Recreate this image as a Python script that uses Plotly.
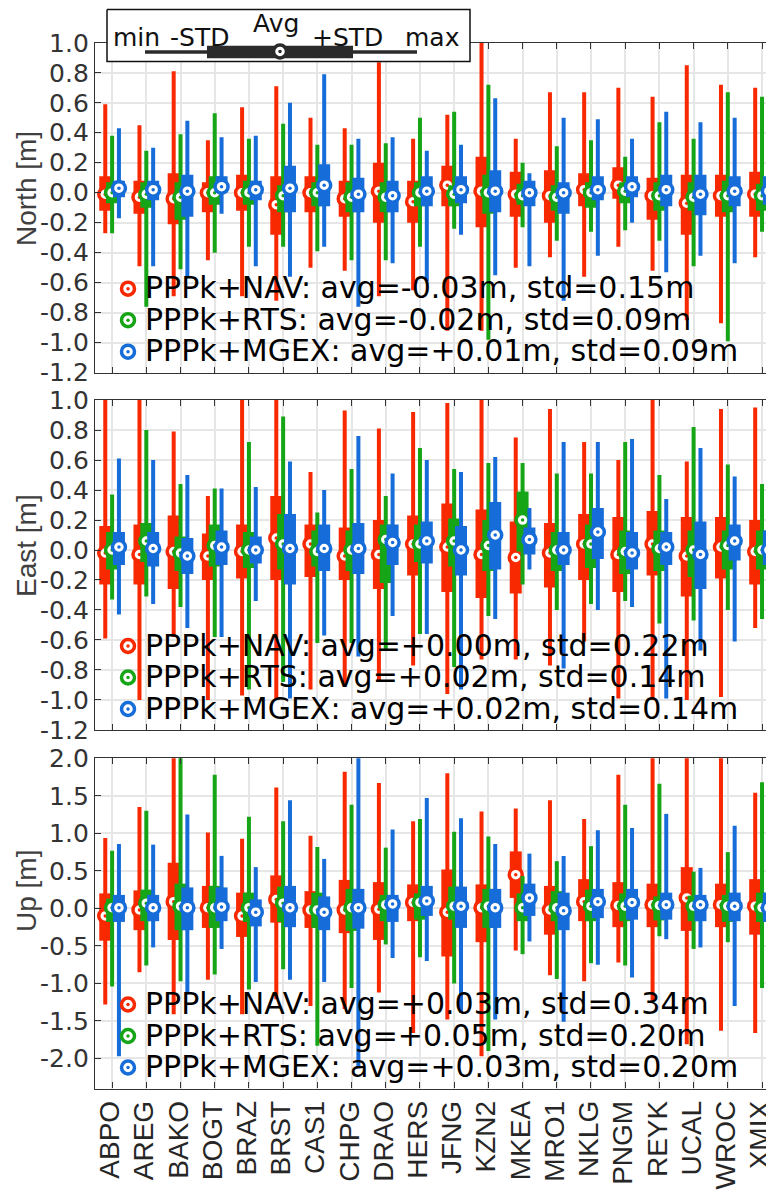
import plotly.graph_objects as go

# The page body has an 8px default margin, so the figure is drawn 8px smaller and all
# reference pixel positions below are converted with PAGE_OFF.
PAGE_OFF = 8
REF_W, REF_H = 774, 1193
W, H = REF_W - PAGE_OFF, REF_H - PAGE_OFF

STATIONS = ["ABPO", "AREG", "BAKO", "BOGT", "BRAZ", "BRST", "CAS1", "CHPG", "DRAO", "HERS",
            "JFNG", "KZN2", "MKEA", "MRO1", "NKLG", "PNGM", "REYK", "UCAL", "WROC", "XMIX"]
SERIES = ["PPPk+NAV", "PPPk+RTS", "PPPk+MGEX"]
COLORS = ["#F82800", "#16A516", "#166CD8"]

# ---------------- North [m] ----------------
N_NAV_AVG = [-0.01, -0.03, -0.04, 0.00, 0.00, -0.08, 0.00, -0.04, 0.01, -0.06, 0.05, 0.01, -0.01, -0.02, 0.02, 0.05, -0.02, -0.07, -0.02, -0.01]
N_NAV_LO = [-0.12, -0.14, -0.21, -0.13, -0.12, -0.28, -0.13, -0.16, -0.20, -0.20, -0.09, -0.23, -0.16, -0.20, -0.09, -0.04, -0.18, -0.28, -0.16, -0.16]
N_NAV_HI = [0.11, 0.08, 0.13, 0.07, 0.12, 0.11, 0.11, 0.08, 0.20, 0.08, 0.18, 0.24, 0.14, 0.15, 0.13, 0.17, 0.10, 0.12, 0.12, 0.14]
N_NAV_MIN = [-0.27, -0.49, -0.69, -0.45, -0.69, -0.72, -0.50, -0.52, -0.69, -0.65, -0.92, -0.92, -0.50, -0.43, -0.56, -0.36, -0.52, -0.85, -0.87, -0.43]
N_NAV_MAX = [0.59, 0.45, 0.81, 0.35, 0.57, 0.71, 0.50, 0.43, 0.87, 0.36, 0.52, 1.05, 0.36, 0.67, 0.67, 0.70, 0.64, 0.85, 0.72, 0.70]

N_RTS_AVG = [0.00, -0.01, -0.03, 0.00, 0.00, -0.02, 0.00, -0.03, -0.03, 0.00, -0.01, 0.00, -0.02, -0.03, 0.00, 0.01, -0.02, -0.03, -0.02, -0.02]
N_RTS_LO = [-0.07, -0.10, -0.18, -0.08, -0.08, -0.13, -0.09, -0.13, -0.13, -0.09, -0.09, -0.14, -0.08, -0.12, -0.10, -0.07, -0.12, -0.12, -0.13, -0.12]
N_RTS_HI = [0.07, 0.07, 0.07, 0.11, 0.08, 0.05, 0.07, 0.07, 0.07, 0.07, 0.05, 0.12, 0.06, 0.05, 0.07, 0.07, 0.07, 0.07, 0.08, 0.06]
N_RTS_MIN = [-0.27, -0.76, -0.51, -0.40, -0.36, -0.36, -0.39, -0.45, -0.45, -0.36, -0.24, -0.98, -0.23, -0.32, -0.26, -0.25, -0.32, -0.49, -0.99, -0.26]
N_RTS_MAX = [0.38, 0.28, 0.39, 0.53, 0.36, 0.46, 0.32, 0.32, 0.33, 0.50, 0.54, 0.72, 0.20, 0.31, 0.35, 0.24, 0.47, 0.36, 0.67, 0.64]

N_MGEX_AVG = [0.03, 0.02, 0.01, 0.04, 0.02, 0.03, 0.05, -0.01, -0.02, 0.01, 0.02, 0.01, 0.00, 0.00, 0.02, 0.04, 0.02, -0.01, 0.01, 0.01]
N_MGEX_LO = [-0.03, -0.05, -0.16, 0.00, -0.05, -0.13, -0.09, -0.13, -0.13, -0.09, -0.07, -0.13, -0.09, -0.14, -0.05, -0.03, -0.09, -0.15, -0.09, -0.08]
N_MGEX_HI = [0.08, 0.08, 0.12, 0.11, 0.08, 0.18, 0.19, 0.10, 0.08, 0.11, 0.11, 0.15, 0.08, 0.07, 0.11, 0.11, 0.12, 0.12, 0.11, 0.11]
N_MGEX_MIN = [-0.17, -0.49, -0.56, -0.14, -0.49, -0.56, -0.36, -0.76, -0.47, -0.59, -0.28, -0.55, -0.49, -0.72, -0.42, -0.20, -0.53, -0.42, -0.47, -0.35]
N_MGEX_MAX = [0.43, 0.30, 0.48, 0.37, 0.38, 0.60, 0.79, 0.36, 0.37, 0.28, 0.32, 0.63, 0.13, 0.50, 0.49, 0.36, 0.54, 0.47, 0.50, 0.47]

# ---------------- East [m] ----------------
E_NAV_AVG = [-0.02, -0.03, -0.01, -0.04, -0.01, 0.08, 0.04, -0.04, -0.03, 0.04, 0.02, -0.03, -0.05, -0.02, 0.04, -0.03, 0.04, -0.04, 0.02, -0.01]
E_NAV_LO = [-0.23, -0.23, -0.26, -0.20, -0.19, -0.20, -0.18, -0.20, -0.26, -0.17, -0.28, -0.32, -0.29, -0.25, -0.20, -0.28, -0.17, -0.31, -0.19, -0.23]
E_NAV_HI = [0.16, 0.17, 0.23, 0.11, 0.17, 0.36, 0.17, 0.15, 0.20, 0.23, 0.31, 0.27, 0.19, 0.18, 0.24, 0.22, 0.26, 0.22, 0.22, 0.20]
E_NAV_MIN = [-0.59, -1.00, -0.58, -1.00, -0.97, -1.00, -0.93, -0.90, -0.87, -0.77, -0.96, -0.73, -0.73, -0.77, -0.61, -0.99, -1.00, -1.00, -0.98, -0.52]
E_NAV_MAX = [1.05, 1.05, 0.79, 0.36, 1.05, 1.05, 0.52, 0.93, 0.81, 0.92, 0.98, 1.05, 0.75, 0.94, 0.72, 0.60, 1.05, 0.59, 0.94, 0.95]

E_RTS_AVG = [0.00, 0.06, -0.02, 0.03, 0.00, 0.04, -0.01, 0.00, 0.07, 0.04, 0.06, 0.03, 0.20, 0.00, 0.04, -0.01, 0.01, 0.00, 0.03, 0.00]
E_RTS_LO = [-0.13, -0.08, -0.14, -0.11, -0.12, -0.13, -0.11, -0.14, -0.22, -0.08, -0.11, -0.14, -0.01, -0.14, -0.12, -0.16, -0.14, -0.18, -0.13, -0.13]
E_RTS_HI = [0.12, 0.18, 0.09, 0.17, 0.12, 0.24, 0.13, 0.13, 0.17, 0.17, 0.21, 0.20, 0.39, 0.12, 0.17, 0.13, 0.13, 0.13, 0.13, 0.13]
E_RTS_MIN = [-0.33, -0.31, -0.38, -0.58, -0.93, -0.88, -0.62, -0.62, -0.66, -0.56, -0.78, -0.44, -0.23, -0.40, -0.36, -0.34, -0.49, -0.47, -0.40, -0.46]
E_RTS_MAX = [0.37, 0.80, 0.44, 0.41, 0.72, 0.89, 0.25, 0.54, 0.36, 0.68, 0.54, 0.58, 0.58, 0.51, 0.51, 0.72, 0.50, 0.82, 0.57, 0.44]

E_MGEX_AVG = [0.02, 0.01, -0.04, 0.02, 0.00, 0.01, 0.01, 0.01, 0.05, 0.06, 0.00, 0.10, 0.07, 0.00, 0.12, -0.02, 0.02, -0.03, 0.06, 0.00]
E_MGEX_LO = [-0.10, -0.11, -0.16, -0.10, -0.09, -0.23, -0.14, -0.16, -0.10, -0.09, -0.17, -0.13, -0.03, -0.10, -0.06, -0.13, -0.10, -0.26, -0.07, -0.10]
E_MGEX_HI = [0.12, 0.12, 0.08, 0.13, 0.09, 0.24, 0.17, 0.18, 0.17, 0.19, 0.16, 0.32, 0.15, 0.12, 0.28, 0.12, 0.12, 0.19, 0.17, 0.13]
E_MGEX_MIN = [-0.43, -0.36, -0.52, -0.58, -0.34, -0.99, -0.57, -0.71, -0.44, -0.56, -0.93, -0.46, -0.13, -0.79, -0.40, -0.38, -0.99, -0.67, -0.61, -0.52]
E_MGEX_MAX = [0.61, 0.60, 0.50, 0.41, 0.42, 0.59, 0.40, 0.76, 0.51, 0.60, 0.52, 0.62, 0.28, 0.72, 0.72, 0.74, 0.34, 0.68, 0.49, 0.40]

# ---------------- Up [m] ----------------
U_NAV_AVG = [-0.10, -0.02, 0.09, 0.01, -0.10, 0.12, -0.02, -0.02, -0.01, 0.08, -0.05, 0.01, 0.45, -0.02, 0.09, 0.04, 0.05, 0.14, 0.05, 0.03]
U_NAV_LO = [-0.43, -0.29, -0.42, -0.26, -0.38, -0.19, -0.26, -0.33, -0.42, -0.17, -0.64, -0.45, 0.14, -0.35, -0.17, -0.25, -0.25, -0.30, -0.25, -0.35]
U_NAV_HI = [0.20, 0.24, 0.61, 0.30, 0.21, 0.44, 0.23, 0.38, 0.35, 0.32, 0.52, 0.32, 0.76, 0.30, 0.39, 0.35, 0.33, 0.55, 0.33, 0.39]
U_NAV_MIN = [-1.28, -0.85, -1.41, -0.95, -1.41, -1.21, -1.30, -1.34, -1.12, -1.66, -1.48, -1.97, -0.56, -0.89, -0.97, -0.72, -1.23, -1.81, -1.63, -1.66]
U_NAV_MAX = [0.94, 1.35, 2.10, 1.01, 0.93, 1.61, 0.97, 1.82, 1.67, 1.16, 1.80, 1.29, 1.33, 1.44, 1.19, 1.78, 2.10, 2.10, 2.10, 1.54]

U_RTS_AVG = [0.01, 0.07, 0.03, 0.01, 0.01, 0.07, -0.02, 0.01, 0.05, 0.08, 0.03, 0.03, 0.01, 0.01, 0.03, 0.03, 0.04, 0.03, 0.03, 0.01]
U_RTS_LO = [-0.18, -0.17, -0.29, -0.26, -0.18, -0.18, -0.26, -0.30, -0.17, -0.15, -0.15, -0.26, -0.17, -0.17, -0.17, -0.17, -0.16, -0.17, -0.18, -0.18]
U_RTS_HI = [0.13, 0.25, 0.33, 0.30, 0.21, 0.29, 0.21, 0.26, 0.18, 0.20, 0.29, 0.26, 0.20, 0.23, 0.25, 0.20, 0.16, 0.17, 0.18, 0.21]
U_RTS_MIN = [-1.04, -0.76, -0.97, -0.88, -1.08, -0.81, -1.83, -1.06, -0.48, -0.65, -1.00, -1.90, -0.61, -0.94, -0.73, -0.76, -0.37, -0.54, -0.45, -1.06]
U_RTS_MAX = [0.77, 1.30, 2.10, 1.78, 1.22, 1.16, 0.82, 1.38, 0.81, 1.19, 1.02, 0.96, 0.43, 0.63, 0.83, 1.38, 1.66, 0.49, 0.75, 1.68]

U_MGEX_AVG = [0.01, 0.01, 0.01, 0.02, -0.05, 0.01, -0.05, 0.01, 0.06, 0.10, 0.03, 0.01, 0.14, -0.03, 0.09, 0.08, 0.05, 0.05, 0.03, 0.01]
U_MGEX_LO = [-0.18, -0.17, -0.29, -0.17, -0.24, -0.25, -0.29, -0.27, -0.18, -0.10, -0.26, -0.26, -0.10, -0.29, -0.13, -0.15, -0.15, -0.17, -0.17, -0.18]
U_MGEX_HI = [0.18, 0.18, 0.28, 0.28, 0.12, 0.30, 0.16, 0.26, 0.18, 0.30, 0.29, 0.26, 0.33, 0.21, 0.26, 0.26, 0.21, 0.18, 0.21, 0.21]
U_MGEX_MIN = [-1.97, -0.52, -1.12, -0.54, -0.98, -0.95, -0.98, -2.13, -0.66, -0.70, -1.39, -1.48, -0.44, -1.51, -0.75, -0.92, -0.41, -0.52, -1.30, -1.23]
U_MGEX_MAX = [0.86, 0.85, 1.25, 0.70, 0.55, 1.44, 0.66, 2.10, 1.05, 1.47, 1.20, 0.86, 0.73, 0.70, 1.04, 1.07, 1.26, 0.54, 1.10, 0.82]

# summary statistics printed in each panel (avg, std per series)
N_SUM_AVG = [-0.03, -0.02, 0.01]
N_SUM_STD = [0.15, 0.09, 0.09]
E_SUM_AVG = [0.00, 0.02, 0.02]
E_SUM_STD = [0.22, 0.14, 0.14]
U_SUM_AVG = [0.03, 0.05, 0.03]
U_SUM_STD = [0.34, 0.20, 0.20]

NE_TICK_TEXT = ["-1.2", "-1.0", "-0.8", "-0.6", "-0.4", "-0.2", "0.0", "0.2", "0.4", "0.6", "0.8", "1.0"]
UP_TICK_TEXT = ["-2.0", "-1.5", "-1.0", "-0.5", "0.0", "0.5", "1.0", "1.5", "2.0"]

PANEL_TITLES = ["North [m]", "East [m]", "Up [m]"]
LEGEND_KEY = ["min", "-STD", "Avg", "+STD", "max"]

# ---------------- layout geometry (reference pixels) ----------------
X_LEFT = 95
TOPS = [42.7, 400.0, 758.3]
BOTTOMS = [372.7, 730.0, 1088.5]
XRANGE = [0.5, 20.35]
OFFSETS = [-0.2, 0.0, 0.2]

panels = [
    dict(data=[(N_NAV_MIN, N_NAV_LO, N_NAV_AVG, N_NAV_HI, N_NAV_MAX),
               (N_RTS_MIN, N_RTS_LO, N_RTS_AVG, N_RTS_HI, N_RTS_MAX),
               (N_MGEX_MIN, N_MGEX_LO, N_MGEX_AVG, N_MGEX_HI, N_MGEX_MAX)],
         sum_avg=N_SUM_AVG, sum_std=N_SUM_STD, ticks=NE_TICK_TEXT, rng=[-1.2005, 1.0005]),
    dict(data=[(E_NAV_MIN, E_NAV_LO, E_NAV_AVG, E_NAV_HI, E_NAV_MAX),
               (E_RTS_MIN, E_RTS_LO, E_RTS_AVG, E_RTS_HI, E_RTS_MAX),
               (E_MGEX_MIN, E_MGEX_LO, E_MGEX_AVG, E_MGEX_HI, E_MGEX_MAX)],
         sum_avg=E_SUM_AVG, sum_std=E_SUM_STD, ticks=NE_TICK_TEXT, rng=[-1.2005, 1.0005]),
    dict(data=[(U_NAV_MIN, U_NAV_LO, U_NAV_AVG, U_NAV_HI, U_NAV_MAX),
               (U_RTS_MIN, U_RTS_LO, U_RTS_AVG, U_RTS_HI, U_RTS_MAX),
               (U_MGEX_MIN, U_MGEX_LO, U_MGEX_AVG, U_MGEX_HI, U_MGEX_MAX)],
         sum_avg=U_SUM_AVG, sum_std=U_SUM_STD, ticks=UP_TICK_TEXT, rng=[-2.4, 2.0005]),
]

fig = go.Figure()
positions = list(range(1, len(STATIONS) + 1))


def segs(xs, y0s, y1s):
    X, Y = [], []
    for x, a, b in zip(xs, y0s, y1s):
        X += [x, x, None]
        Y += [a, b, None]
    return X, Y


for p, panel in enumerate(panels):
    ax = "" if p == 0 else str(p + 1)
    for s, (mn, lo, av, hi, mx) in enumerate(panel["data"]):
        xs = [i + OFFSETS[s] for i in positions]
        col = COLORS[s]
        X, Y = segs(xs, mn, mx)
        fig.add_trace(go.Scatter(x=X, y=Y, mode="lines", line=dict(color=col, width=4),
                                 xaxis="x" + ax, yaxis="y" + ax, showlegend=False, hoverinfo="skip"))
        X, Y = segs(xs, lo, hi)
        fig.add_trace(go.Scatter(x=X, y=Y, mode="lines", line=dict(color=col, width=12),
                                 xaxis="x" + ax, yaxis="y" + ax, showlegend=False, hoverinfo="skip"))
        fig.add_trace(go.Scatter(x=xs, y=av, mode="markers",
                                 marker=dict(symbol="circle", size=13, color="white",
                                             line=dict(color=col, width=3.5)),
                                 xaxis="x" + ax, yaxis="y" + ax, showlegend=False,
                                 name=SERIES[s], text=STATIONS))
        fig.add_trace(go.Scatter(x=xs, y=av, mode="markers",
                                 marker=dict(symbol="circle", size=3.5, color=col),
                                 xaxis="x" + ax, yaxis="y" + ax, showlegend=False, hoverinfo="skip"))

# ---------------- overlay layer in reference pixel coordinates (legends, titles) ----------------
OV = dict(xaxis="x4", yaxis="y4", showlegend=False, hoverinfo="skip")
BOX_X = [107, 470, 470, 107, 107]
BOX_Y = [9.5, 9.5, 61.5, 61.5, 9.5]
fig.add_trace(go.Scatter(x=BOX_X, y=BOX_Y, mode="lines", fill="toself", fillcolor="white",
                         line=dict(color="#111111", width=1.5), **OV))
KEY_DARK = "#2b2b2b"
fig.add_trace(go.Scatter(x=[145, 417], y=[52, 52], mode="lines", line=dict(color=KEY_DARK, width=3.5), **OV))
fig.add_trace(go.Scatter(x=[207, 353], y=[52, 52], mode="lines", line=dict(color=KEY_DARK, width=12.5), **OV))
fig.add_trace(go.Scatter(x=[280], y=[51.5], mode="markers",
                         marker=dict(symbol="circle", size=13, color="white", line=dict(color=KEY_DARK, width=3.5)), **OV))
fig.add_trace(go.Scatter(x=[280], y=[51.5], mode="markers",
                         marker=dict(symbol="circle", size=3.5, color=KEY_DARK), **OV))

annotations = []
key_font = dict(family="DejaVu Sans", size=25, color="#111111")
key_pos = [(111, 37.5, "left"), (168, 37.5, "left"), (276, 23, "center"), (310, 37.5, "left"), (403, 37.5, "left")]
for txt, (kx, ky, anc) in zip(LEGEND_KEY, key_pos):
    annotations.append(dict(text=txt, x=kx, y=ky, xref="x4", yref="y4", xanchor=anc, yanchor="middle",
                            showarrow=False, font=key_font))

LEG_OFFS = [85, 53.5, 22]
LEG_MX, LEG_TX = 128, 143
for p, panel in enumerate(panels):
    for s in range(3):
        ly = BOTTOMS[p] - LEG_OFFS[s]
        label = f"{SERIES[s]}: avg={panel['sum_avg'][s]:+.2f}m, std={panel['sum_std'][s]:.2f}m"
        annotations.append(dict(text=label, x=LEG_TX, y=ly, xref="x4", yref="y4", xanchor="left",
                                yanchor="middle", showarrow=False,
                                font=dict(family="DejaVu Sans", size=30, color="#000000")))
        fig.add_trace(go.Scatter(x=[LEG_MX], y=[ly + 1], mode="markers",
                                 marker=dict(symbol="circle", size=13, color="white",
                                             line=dict(color=COLORS[s], width=3.5)), **OV))
        fig.add_trace(go.Scatter(x=[LEG_MX], y=[ly + 1], mode="markers",
                                 marker=dict(symbol="circle", size=3.5, color=COLORS[s]), **OV))

TITLE_Y = [189, 546, 891]
for p in range(3):
    annotations.append(dict(text=PANEL_TITLES[p], x=26, y=TITLE_Y[p], xref="x4", yref="y4",
                            xanchor="center", yanchor="middle", textangle=-90, showarrow=False,
                            font=dict(family="Liberation Sans", size=28, color="#404040")))

layout = dict(
    width=W, height=H, margin=dict(l=0, r=0, t=0, b=0),
    paper_bgcolor="white", plot_bgcolor="rgba(0,0,0,0)",
    showlegend=False, annotations=annotations,
    xaxis4=dict(domain=[0, 1], range=[PAGE_OFF, REF_W], visible=False, fixedrange=True, anchor="y4"),
    yaxis4=dict(domain=[0, 1], range=[REF_H, PAGE_OFF], visible=False, fixedrange=True, anchor="x4"),
)

for p, panel in enumerate(panels):
    ax = "" if p == 0 else str(p + 1)
    ydom = [1 - (BOTTOMS[p] - PAGE_OFF) / H, 1 - (TOPS[p] - PAGE_OFF) / H]
    layout["xaxis" + ax] = dict(
        domain=[(X_LEFT - PAGE_OFF) / W, 1], range=XRANGE, anchor="y" + ax,
        tickvals=positions, ticktext=STATIONS, showticklabels=(p == 2), tickangle=-90,
        ticklabeloverflow="allow", ticklabelshift=-2,
        tickfont=dict(family="Liberation Sans", size=28, color="#262626"),
        ticks="inside", ticklen=6, tickcolor="#333333", tickwidth=1.2,
        showline=True, linecolor="#333333", linewidth=1.3, mirror="ticks",
        showgrid=True, gridcolor="#e6e6e6", gridwidth=1.5, zeroline=False, automargin=False,
    )
    layout["yaxis" + ax] = dict(
        domain=ydom, range=panel["rng"], anchor="x" + ax,
        tickvals=[float(t) for t in panel["ticks"]], ticktext=panel["ticks"],
        tickfont=dict(family="DejaVu Sans", size=25, color="#333333"),
        ticks="inside", ticklen=6, tickcolor="#333333", tickwidth=1.2,
        showline=True, linecolor="#333333", linewidth=1.3, mirror="ticks",
        showgrid=True, gridcolor="#e6e6e6", gridwidth=1.5, zeroline=False, automargin=False,
    )

fig.update_layout(**layout)
fig.write_html("out.html")
